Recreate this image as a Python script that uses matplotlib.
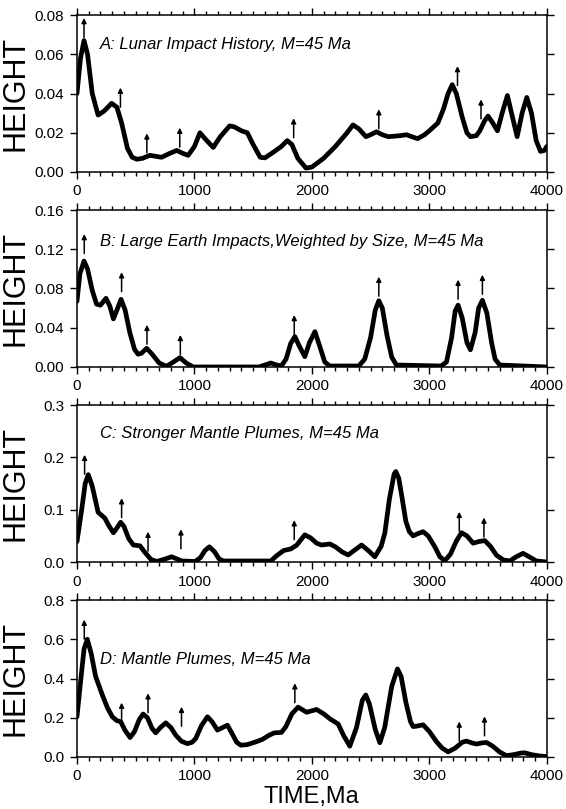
import matplotlib
matplotlib.use("Agg")
import matplotlib.pyplot as plt
from matplotlib.ticker import MultipleLocator, FormatStrFormatter

plt.rcParams['font.family'] = ['Liberation Sans', 'DejaVu Sans']

# ---- panel A: lunar impact history ----
a_time = [0, 30, 60, 90, 130, 180, 230, 295, 340, 380, 430, 470, 510, 560, 620, 720,
          790, 850, 900, 947, 1000, 1047, 1090, 1160, 1220, 1300, 1340, 1400, 1450, 1500,
          1560, 1600, 1670, 1740, 1790, 1830, 1880, 1950, 2000, 2100, 2200, 2300, 2350,
          2400, 2460, 2500, 2550, 2600, 2650, 2750, 2806, 2850, 2900, 2960, 3000, 3073,
          3120, 3160, 3195, 3230, 3280, 3320, 3350, 3400, 3430, 3470, 3500, 3540, 3580,
          3620, 3665, 3700, 3748, 3790, 3830, 3870, 3910, 3947, 3980, 4000]
a_height = [0.040, 0.058, 0.067, 0.060, 0.040, 0.029, 0.031, 0.035, 0.033, 0.025, 0.012,
            0.0075, 0.0065, 0.007, 0.0085, 0.0075, 0.0095, 0.011, 0.0095, 0.0085, 0.013,
            0.020, 0.017, 0.0125, 0.018, 0.0235, 0.023, 0.021, 0.020, 0.014, 0.0075, 0.0072,
            0.010, 0.013, 0.016, 0.014, 0.007, 0.002, 0.0025, 0.007, 0.013, 0.020, 0.024,
            0.022, 0.018, 0.019, 0.0205, 0.019, 0.018, 0.0185, 0.019, 0.018, 0.017, 0.019,
            0.021, 0.025, 0.032, 0.040, 0.0445, 0.040, 0.028, 0.020, 0.018, 0.0185, 0.021,
            0.026, 0.0285, 0.025, 0.021, 0.030, 0.039, 0.030, 0.018, 0.030, 0.038, 0.030,
            0.016, 0.0105, 0.011, 0.013]
a_arrow_x = [60, 370, 595, 875, 1845, 2570, 3240, 3440]
a_arrow_tip = [0.0785, 0.043, 0.0197, 0.0226, 0.0274, 0.032, 0.054, 0.037]

# ---- panel B: large earth impacts ----
b_time = [0, 25, 60, 90, 130, 167, 200, 247, 280, 310, 340, 375, 410, 450, 490, 520, 550,
          593, 640, 700, 763, 820, 877, 930, 990, 1200, 1550, 1600, 1650, 1700, 1740, 1780,
          1820, 1855, 1890, 1940, 1980, 2026, 2070, 2110, 2153, 2400, 2450, 2500, 2540,
          2570, 2600, 2640, 2680, 2720, 3100, 3146, 3190, 3220, 3245, 3280, 3320, 3350,
          3390, 3420, 3452, 3490, 3530, 3560, 3600, 4000]
b_height = [0.067, 0.095, 0.108, 0.100, 0.078, 0.064, 0.063, 0.070, 0.062, 0.049, 0.058,
            0.069, 0.058, 0.035, 0.018, 0.013, 0.014, 0.019, 0.013, 0.004, 0.0007, 0.005,
            0.0095, 0.004, 0.0, 0.0, 0.0, 0.002, 0.004, 0.002, 0.001, 0.008, 0.024, 0.031,
            0.022, 0.0105, 0.025, 0.036, 0.020, 0.005, 0.001, 0.001, 0.008, 0.030, 0.058,
            0.0675, 0.060, 0.032, 0.010, 0.002, 0.001, 0.005, 0.030, 0.057, 0.063, 0.050,
            0.025, 0.0175, 0.035, 0.060, 0.068, 0.055, 0.025, 0.008, 0.002, 0.0]
b_arrow_x = [62, 380, 596, 880, 1850, 2570, 3245, 3452]
b_arrow_tip = [0.1355, 0.0966, 0.043, 0.0327, 0.053, 0.092, 0.089, 0.094]

# ---- panel C: stronger mantle plumes ----
c_time = [0, 40, 70, 96, 130, 180, 237, 270, 310, 340, 372, 400, 440, 480, 536, 580, 630,
          678, 740, 806, 850, 891, 1005, 1050, 1090, 1127, 1170, 1210, 1246, 1650, 1700,
          1760, 1820, 1870, 1940, 1990, 2040, 2082, 2153, 2200, 2260, 2309, 2360, 2423,
          2480, 2536, 2590, 2621, 2660, 2700, 2715, 2740, 2770, 2800, 2830, 2862, 2900,
          2947, 2990, 3047, 3090, 3132, 3180, 3230, 3274, 3320, 3373, 3420, 3472, 3520,
          3572, 3630, 3685, 3740, 3798, 3850, 3912, 4000]
c_height = [0.039, 0.100, 0.150, 0.167, 0.145, 0.095, 0.084, 0.070, 0.056, 0.065, 0.076,
            0.068, 0.045, 0.0325, 0.031, 0.018, 0.005, 0.001, 0.005, 0.010, 0.006, 0.002,
            0.001, 0.008, 0.022, 0.029, 0.020, 0.006, 0.002, 0.002, 0.012, 0.022, 0.025,
            0.032, 0.052, 0.046, 0.036, 0.0325, 0.0345, 0.029, 0.019, 0.0135, 0.022, 0.0325,
            0.022, 0.010, 0.030, 0.055, 0.120, 0.168, 0.173, 0.160, 0.120, 0.078, 0.058,
            0.050, 0.054, 0.058, 0.050, 0.029, 0.010, 0.0025, 0.015, 0.040, 0.056, 0.050,
            0.036, 0.039, 0.041, 0.030, 0.013, 0.004, 0.002, 0.010, 0.0166, 0.010, 0.002, 0.0]
c_arrow_x = [65, 380, 605, 885, 1850, 3255, 3465]
c_arrow_tip = [0.205, 0.122, 0.058, 0.0625, 0.080, 0.096, 0.085]

# ---- panel D: mantle plumes ----
d_time = [0, 30, 60, 88, 120, 159, 216, 260, 301, 340, 372, 410, 452, 490, 530, 563, 600,
          640, 670, 710, 756, 800, 841, 890, 940, 980, 1011, 1060, 1111, 1150, 1196, 1240,
          1281, 1320, 1360, 1395, 1450, 1523, 1580, 1636, 1680, 1740, 1778, 1830, 1883,
          1955, 2040, 2100, 2153, 2224, 2270, 2323, 2380, 2430, 2459, 2490, 2540, 2579,
          2620, 2680, 2729, 2760, 2800, 2840, 2862, 2900, 2947, 3000, 3061, 3110, 3160,
          3220, 3280, 3316, 3360, 3402, 3450, 3487, 3540, 3600, 3657, 3720, 3780, 3813,
          3870, 3940, 4000]
d_height = [0.205, 0.38, 0.55, 0.600, 0.53, 0.41, 0.316, 0.25, 0.205, 0.185, 0.180, 0.135,
            0.099, 0.130, 0.190, 0.219, 0.200, 0.145, 0.123, 0.150, 0.174, 0.150, 0.111,
            0.080, 0.068, 0.075, 0.094, 0.160, 0.205, 0.180, 0.137, 0.150, 0.162, 0.120,
            0.075, 0.060, 0.063, 0.077, 0.090, 0.111, 0.123, 0.125, 0.154, 0.220, 0.254,
            0.228, 0.242, 0.220, 0.195, 0.168, 0.110, 0.055, 0.150, 0.290, 0.316, 0.270,
            0.140, 0.0725, 0.150, 0.360, 0.449, 0.410, 0.280, 0.180, 0.155, 0.158, 0.164,
            0.130, 0.078, 0.045, 0.026, 0.045, 0.075, 0.081, 0.072, 0.066, 0.072, 0.074,
            0.055, 0.025, 0.007, 0.012, 0.020, 0.021, 0.012, 0.005, 0.002]
d_arrow_x = [62, 380, 605, 890, 1855, 3255, 3470]
d_arrow_tip = [0.70, 0.277, 0.325, 0.256, 0.376, 0.181, 0.207]

titles = ["A: Lunar Impact History, M=45 Ma",
          "B: Large Earth Impacts,Weighted by Size, M=45 Ma",
          "C: Stronger Mantle Plumes, M=45 Ma",
          "D: Mantle Plumes, M=45 Ma"]
ymax = [0.08, 0.16, 0.3, 0.8]
ystep = [0.02, 0.04, 0.1, 0.2]
yfmt = ['%.2f', '%.2f', '%.1f', '%.1f']
title_y = [0.81, 0.80, 0.82, 0.62]

panels = [(a_time, a_height, a_arrow_x, a_arrow_tip),
          (b_time, b_height, b_arrow_x, b_arrow_tip),
          (c_time, c_height, c_arrow_x, c_arrow_tip),
          (d_time, d_height, d_arrow_x, d_arrow_tip)]

fig = plt.figure(figsize=(5.66, 8.09), dpi=100)
bottoms = [0.7874, 0.5464, 0.3053, 0.0643]

for i, (t, h, ax_x, ax_tip) in enumerate(panels):
    ax = fig.add_axes([0.136, bottoms[i], 0.830, 0.194])
    ax.plot(t, h, color='black', lw=3.4, solid_joinstyle='round', solid_capstyle='round')
    for x, tip in zip(ax_x, ax_tip):
        ax.annotate('', xy=(x, tip), xytext=(0, -14), textcoords='offset points',
                    xycoords='data',
                    arrowprops=dict(arrowstyle='-|>', lw=1.1, color='black',
                                    mutation_scale=7, shrinkA=0, shrinkB=0))
    ax.set_xlim(0, 4000)
    ax.set_ylim(0, ymax[i])
    ax.xaxis.set_major_locator(MultipleLocator(1000))
    ax.xaxis.set_minor_locator(MultipleLocator(100))
    ax.yaxis.set_major_locator(MultipleLocator(ystep[i]))
    ax.yaxis.set_major_formatter(FormatStrFormatter(yfmt[i]))
    ax.tick_params(which='both', direction='out', top=True, right=True,
                   labelsize=11, width=1.0)
    ax.tick_params(which='major', length=5, pad=4)
    ax.tick_params(which='minor', length=3)
    for sp in ax.spines.values():
        sp.set_linewidth(1.1)
    ax.text(0.049, title_y[i], titles[i], transform=ax.transAxes, fontsize=12,
            style='italic', va='center', ha='left')
    ax.set_ylabel('HEIGHT', fontsize=22)
    ax.yaxis.set_label_coords(-0.098, 0.5)
    if i == 3:
        ax.set_xlabel('TIME,Ma', fontsize=17)
        ax.xaxis.set_label_coords(0.5, -0.185)

fig.savefig('out.png', dpi=100)
